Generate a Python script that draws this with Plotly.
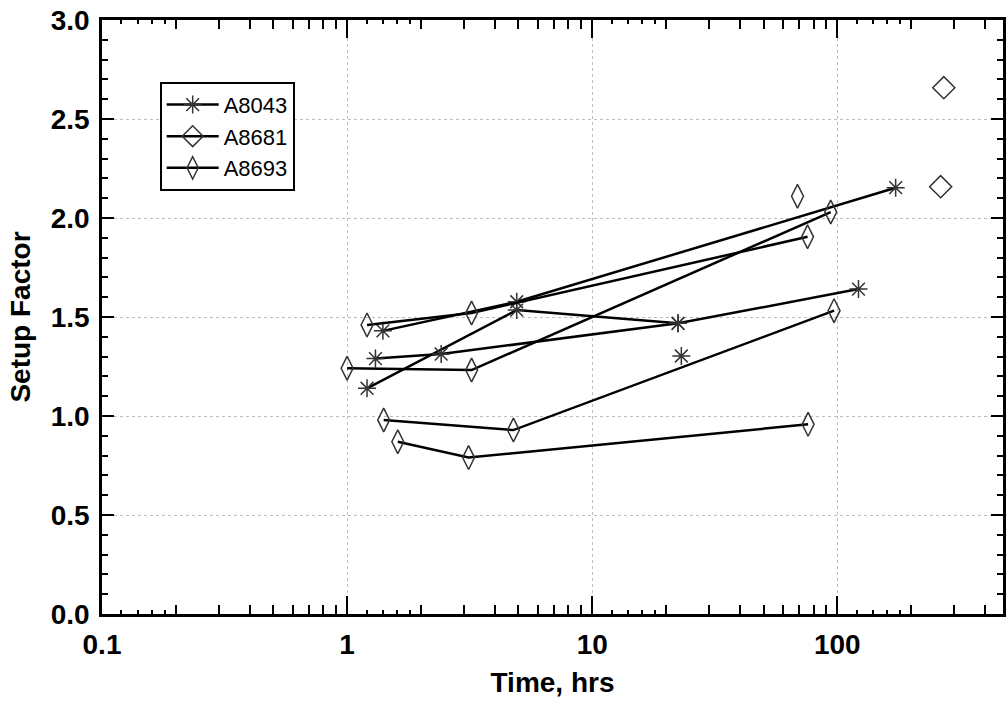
import plotly.graph_objects as go

# ---- data (time in hrs, setup factor) ----
series_names = ["A8043", "A8681", "A8693"]

a8043_piles_t = [[1.305, 2.42, 22.4, 122.0], [1.206, 4.92, 22.4], [1.40, 4.92, 173.0], [23.1]]
a8043_piles_v = [[1.29, 1.313, 1.468, 1.641], [1.14, 1.535, 1.468], [1.43, 1.577, 2.153], [1.303]]

a8681_piles_t = [[272.0], [264.0]]
a8681_piles_v = [[2.658], [2.158]]

a8693_piles_t = [[1.206, 3.22, 75.6], [1.0, 3.22, 94.0], [1.41, 4.77, 97.0], [1.61, 3.13, 76.0], [68.8]]
a8693_piles_v = [[1.46, 1.52, 1.905], [1.241, 1.232, 2.03], [0.98, 0.929, 1.532], [0.87, 0.79, 0.958], [2.11]]

x_major_ticks = [0.1, 1, 10, 100]
x_major_labels = ["0.1", "1", "10", "100"]
y_ticks = [0.0, 0.5, 1.0, 1.5, 2.0, 2.5, 3.0]


def join_piles(piles):
    out = []
    for i, p in enumerate(piles):
        if i:
            out.append(None)
        out.extend(p)
    return out


symbols = {"A8043": "asterisk-open", "A8681": "diamond-open", "A8693": "diamond-tall-open"}
sizes = {"A8043": 15, "A8681": 17, "A8693": 17}
data = {
    "A8043": (a8043_piles_t, a8043_piles_v),
    "A8681": (a8681_piles_t, a8681_piles_v),
    "A8693": (a8693_piles_t, a8693_piles_v),
}

fig = go.Figure()
for name in series_names:
    pt, pv = data[name]
    fig.add_trace(go.Scatter(
        x=join_piles(pt), y=join_piles(pv), name=name, mode="lines+markers",
        connectgaps=False,
        line=dict(color="black", width=2.5),
        marker=dict(symbol=symbols[name], size=sizes[name], color="#333333",
                    line=dict(color="#333333", width=1.5)),
    ))

# invisible helper trace for the small-tick overlay axis
fig.add_trace(go.Scatter(x=[0.2, 300], y=[1, 1], xaxis="x2", mode="markers",
                         marker=dict(opacity=0), showlegend=False, hoverinfo="skip"))

minor_x = [m * d for d in (0.1, 1, 10, 100) for m in range(2, 10) if m * d < 480]
small_x = [m * d for d in (0.1, 1, 10, 100) for m in (1.2, 1.4, 1.6, 1.8)]

tick_font = dict(family="Liberation Sans, Arial, sans-serif", size=28, color="black", weight="bold")
xr = [-1, 2.676]

fig.update_layout(
    width=1008, height=708,
    margin=dict(l=102, r=2, t=20, b=94),
    paper_bgcolor="white", plot_bgcolor="white",
    showlegend=True,
    legend=dict(x=0.064, y=0.896, xanchor="left", yanchor="top",
                bgcolor="white", bordercolor="black", borderwidth=2,
                itemwidth=52,
                font=dict(family="Liberation Sans, Arial, sans-serif", size=22, color="black"),
                tracegroupgap=0),
    xaxis=dict(
        type="log", range=xr,
        tickvals=x_major_ticks, ticktext=x_major_labels,
        ticks="inside", ticklen=18, tickwidth=2, tickcolor="black",
        showline=True, linecolor="black", linewidth=2.5, mirror="ticks",
        showgrid=True, gridcolor="#bdbdbd", gridwidth=1, griddash="3px,3px",
        zeroline=False,
        tickfont=tick_font, ticklabelstandoff=4,
        minor=dict(tickmode="array", tickvals=minor_x, ticks="inside", ticklen=9,
                   tickwidth=2, tickcolor="black", showgrid=False),
        title=dict(text="Time, hrs", font=tick_font, standoff=14),
    ),
    xaxis2=dict(
        type="log", range=xr, overlaying="x", matches="x", anchor="y",
        tickvals=small_x, ticks="inside", ticklen=4, tickwidth=2, tickcolor="black",
        showticklabels=False, showgrid=False, showline=False, mirror="ticks", zeroline=False,
    ),
    yaxis=dict(
        range=[0, 3], tickvals=y_ticks, tickformat=".1f",
        ticks="inside", ticklen=12, tickwidth=2, tickcolor="black",
        showline=True, linecolor="black", linewidth=2.5, mirror="ticks",
        showgrid=True, gridcolor="#bdbdbd", gridwidth=1, griddash="3px,3px",
        zeroline=False,
        tickfont=tick_font, ticklabelstandoff=4,
        minor=dict(dtick=0.1, ticks="inside", ticklen=6, tickwidth=2, tickcolor="black", showgrid=False),
        title=dict(text="Setup Factor", font=tick_font, standoff=12),
    ),
)

fig.write_html("out.html")
